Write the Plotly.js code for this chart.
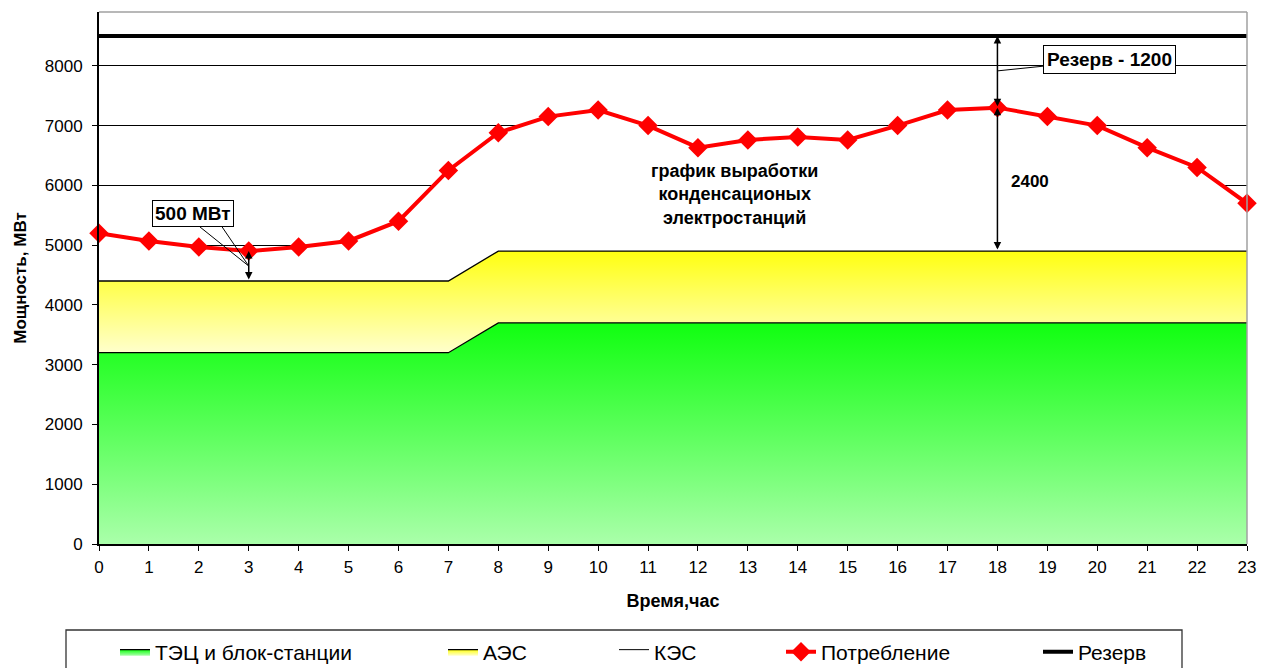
<!DOCTYPE html>
<html>
<head>
<meta charset="utf-8">
<script src="https://cdn.plot.ly/plotly-3.0.1.min.js"></script>
<style>html,body{margin:0;padding:0;background:#fff;}#chart{width:1264px;height:668px;}</style>
</head>
<body>
<div id="chart"></div>
<script>
// ---- data ----
const hours = [0,1,2,3,4,5,6,7,8,9,10,11,12,13,14,15,16,17,18,19,20,21,22,23];
const consumption = [5200,5070,4970,4900,4970,5070,5400,6250,6880,7150,7260,7000,6630,6760,6810,6760,7000,7260,7300,7150,7000,6630,6300,5700];
const tec = [3200,3200,3200,3200,3200,3200,3200,3200,3700,3700,3700,3700,3700,3700,3700,3700,3700,3700,3700,3700,3700,3700,3700,3700];
const aes = [1200,1200,1200,1200,1200,1200,1200,1200,1200,1200,1200,1200,1200,1200,1200,1200,1200,1200,1200,1200,1200,1200,1200,1200];
const reserve = [8500,8500,8500,8500,8500,8500,8500,8500,8500,8500,8500,8500,8500,8500,8500,8500,8500,8500,8500,8500,8500,8500,8500,8500];
const seriesNames = ['ТЭЦ и блок-станции','АЭС','КЭС','Потребление','Резерв'];
const yTicks = [0,1000,2000,3000,4000,5000,6000,7000,8000];

const aesTop = tec.map((v,i)=>v+aes[i]);
const FONT = 'Liberation Sans, Arial, sans-serif';
const W = 1264, H = 668;

const traces = [
  {x:hours, y:tec, name:seriesNames[0], type:'scatter', mode:'lines', fill:'tozeroy',
   line:{color:'#000', width:1.3},
   fillcolor:'#55ff55',
   fillgradient:{type:'vertical', start:0, stop:Math.max(...tec), colorscale:[[0,'#aaffaa'],[1,'#10ff10']]},
   legend:'legend', hoverinfo:'skip'},
  {x:hours, y:aesTop, name:seriesNames[1], type:'scatter', mode:'lines', fill:'tonexty',
   line:{color:'#000', width:1.3},
   fillcolor:'#ffff80',
   fillgradient:{type:'vertical', start:Math.min(...tec), stop:Math.max(...aesTop), colorscale:[[0,'#ffffcc'],[1,'#ffff10']]},
   legend:'legend2', hoverinfo:'skip'},
  {x:hours, y:consumption, name:seriesNames[2], type:'scatter', mode:'lines', fill:'tonexty',
   line:{color:'#000', width:1}, fillcolor:'#ffffff', legend:'legend3', hoverinfo:'skip'},
  {x:hours, y:consumption, name:seriesNames[3], type:'scatter', mode:'lines+markers',
   line:{color:'#ff0000', width:4}, marker:{symbol:'diamond', size:15, color:'#ff0000'},
   cliponaxis:false, legend:'legend4'},
  {x:hours, y:reserve, name:seriesNames[4], type:'scatter', mode:'lines',
   line:{color:'#000', width:4}, legend:'legend5'}
];

function leg(px){
  return {xref:'container', yref:'container', x:px/W, y:1-652/H, xanchor:'left', yanchor:'middle',
    orientation:'h', bgcolor:'rgba(0,0,0,0)', borderwidth:0, font:{family:FONT, size:21, color:'#000'}};
}

const h3 = 3, h18 = 18;
const annotations = [
  // double arrows
  {x:h3, y:consumption[h3], ax:h3, ay:aesTop[h3], xref:'x', yref:'y', axref:'x', ayref:'y',
   text:'', showarrow:true, arrowside:'end+start', arrowhead:2, arrowsize:1, arrowwidth:1.5, arrowcolor:'#000'},
  {x:h18, y:reserve[h18], ax:h18, ay:consumption[h18], xref:'x', yref:'y', axref:'x', ayref:'y',
   text:'', showarrow:true, arrowside:'end+start', arrowhead:2, arrowsize:1, arrowwidth:1.5, arrowcolor:'#000'},
  {x:h18, y:consumption[h18], ax:h18, ay:aesTop[h18], xref:'x', yref:'y', axref:'x', ayref:'y',
   text:'', showarrow:true, arrowside:'end+start', arrowhead:2, arrowsize:1, arrowwidth:1.5, arrowcolor:'#000'},
  // labels
  {x:1.884, y:5532, xref:'x', yref:'y', text:'<b>500 МВт</b>', showarrow:false,
   font:{family:FONT, size:19, color:'#000'}, bgcolor:'#fff', bordercolor:'#000', borderwidth:1, borderpad:2},
  {x:h18, y:7915, ax:20.24, ay:8107, xref:'x', yref:'y', axref:'x', ayref:'y',
   text:'<b>Резерв - 1200</b>', showarrow:true, arrowhead:0, arrowwidth:1, arrowcolor:'#000',
   font:{family:FONT, size:19, color:'#000'}, bgcolor:'#fff', bordercolor:'#000', borderwidth:1, borderpad:3},
  {x:18.66, y:6060, xref:'x', yref:'y', text:'<b>2400</b>', showarrow:false,
   font:{family:FONT, size:17, color:'#000'}},
  {x:12.74, y:5841, xref:'x', yref:'y', text:'<b>график выработки<br>конденсационых<br>электростанций</b>', showarrow:false,
   font:{family:FONT, size:18, color:'#000'}, align:'center'}
];

const midBox = (consumption[h3]+aesTop[h3])/2;
const shapes = [
  {type:'line', xref:'x', yref:'y', x0:2.02, y0:5306, x1:h3, y1:midBox, line:{color:'#000', width:1}, layer:'above'},
  {type:'line', xref:'x', yref:'y', x0:2.465, y0:5306, x1:h3, y1:midBox, line:{color:'#000', width:1}, layer:'above'},
  // plot frame top/right
  {type:'line', xref:'paper', yref:'paper', x0:0, x1:1, y0:1, y1:1, line:{color:'#a0a0a0', width:1.5}, layer:'above'},
  {type:'line', xref:'paper', yref:'paper', x0:1, x1:1, y0:0, y1:1, line:{color:'#a0a0a0', width:1.5}, layer:'above'},
  // legend box
  {type:'rect', xref:'paper', yref:'paper', x0:(66-99)/1148, x1:(1182-99)/1148, y0:(544-630)/532, y1:-0.3,
   line:{color:'#333', width:1.3}, fillcolor:'rgba(0,0,0,0)'}
];

const layout = {
  width:W, height:H,
  margin:{l:99, r:17, t:12, b:124},
  paper_bgcolor:'#fff', plot_bgcolor:'#fff',
  showlegend:true,
  font:{family:FONT, color:'#000'},
  xaxis:{range:[0,23], tickvals:hours, ticktext:hours.map(String), ticks:'outside', ticklen:5, tickcolor:'#000',
    showgrid:false, zeroline:false, showline:true, linecolor:'#000', linewidth:2,
    tickfont:{family:FONT, size:17, color:'#000'}, ticklabelstandoff:2,
    title:{text:'<b>Время,час</b>', font:{family:FONT, size:18, color:'#000'}, standoff:18}},
  yaxis:{range:[0,8900], tickvals:yTicks, ticks:'outside', ticklen:5, tickcolor:'#000',
    showgrid:true, gridcolor:'#000', gridwidth:1, zeroline:false, showline:true, linecolor:'#000', linewidth:2,
    tickfont:{family:FONT, size:17, color:'#000'}, ticklabelstandoff:6,
    title:{text:'<b>Мощность, МВт</b>', font:{family:FONT, size:17, color:'#000'}, standoff:14}},
  legend:leg(115), legend2:leg(443), legend3:leg(614), legend4:leg(781), legend5:leg(1038),
  annotations:annotations,
  shapes:shapes
};

Plotly.newPlot('chart', traces, layout, {displayModeBar:false, staticPlot:true});
</script>
</body>
</html>
